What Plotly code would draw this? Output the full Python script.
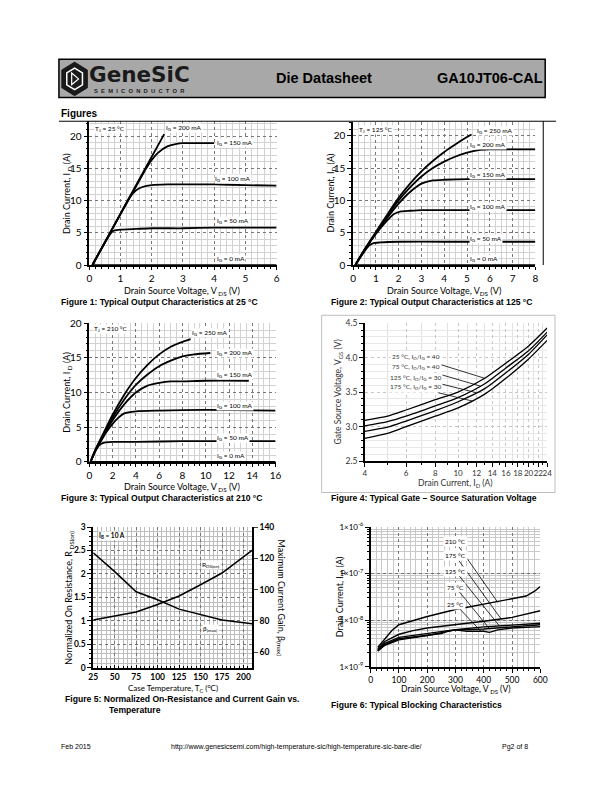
import math
import plotly.graph_objects as go

W, H = 612, 792
def px(x): return x / W
def py(y): return 1 - y / H

# ---------------- data ----------------
# Figure 1 : Tj = 25 C
f1_ig0_v = [0.1, 6.0]
f1_ig0_i = [0.0, 0.0]
f1_ig50_v = [0.1, 0.3, 0.5, 0.7, 0.8, 1.0, 1.5, 2.0, 3.0, 4.0, 5.0, 6.0]
f1_ig50_i = [0.0, 1.8, 3.5, 5.0, 5.35, 5.5, 5.6, 5.7, 5.7, 5.8, 5.8, 5.8]
f1_ig100_v = [0.1, 0.5, 1.0, 1.3, 1.5, 1.7, 2.0, 2.5, 3.0, 4.0, 5.0, 6.0]
f1_ig100_i = [0.0, 3.5, 7.9, 10.5, 11.6, 12.1, 12.4, 12.5, 12.5, 12.5, 12.4, 12.3]
f1_ig150_v = [0.1, 0.5, 1.0, 1.5, 1.8, 2.0, 2.2, 2.5, 2.8, 3.0, 3.5, 4.0]
f1_ig150_i = [0.0, 3.5, 7.9, 12.2, 14.8, 16.3, 17.4, 18.4, 18.8, 18.9, 18.9, 18.9]
f1_ig200_v = [0.1, 1.0, 2.0, 2.4]
f1_ig200_i = [0.0, 8.0, 16.8, 20.3]

# Figure 2 : Tj = 125 C
f2_ig0_v = [0.1, 8.0]
f2_ig0_i = [0.0, 0.0]
f2_ig50_v = [0.1, 0.4, 0.7, 0.9, 1.2, 2.0, 4.0, 6.0, 8.0]
f2_ig50_i = [0.0, 1.6, 3.0, 3.4, 3.5, 3.6, 3.6, 3.6, 3.6]
f2_ig100_v = [0.1, 0.5, 1.0, 1.5, 1.8, 2.1, 2.5, 3.0, 4.0, 6.0, 8.0]
f2_ig100_i = [0.0, 2.3, 4.8, 6.9, 7.9, 8.3, 8.4, 8.5, 8.5, 8.5, 8.5]
f2_ig150_v = [0.1, 0.5, 1.0, 1.5, 2.0, 2.5, 3.0, 3.5, 4.0, 5.0, 6.0, 8.0]
f2_ig150_i = [0.0, 2.3, 4.9, 7.3, 9.5, 11.3, 12.6, 13.1, 13.2, 13.3, 13.3, 13.3]
f2_ig200_v = [0.1, 0.5, 1.0, 1.5, 2.0, 2.5, 3.0, 3.5, 4.0, 4.5, 5.0, 5.5, 6.0, 7.0, 8.0]
f2_ig200_i = [0.0, 2.3, 5.0, 7.6, 10.0, 12.0, 13.7, 15.0, 16.0, 16.8, 17.4, 17.8, 17.9, 17.9, 17.9]
f2_ig250_v = [0.1, 0.5, 1.0, 1.5, 2.0, 2.5, 3.0, 3.5, 4.0, 4.5, 5.0, 5.2]
f2_ig250_i = [0.0, 2.4, 5.1, 7.8, 10.4, 12.6, 14.5, 16.1, 17.5, 18.7, 19.8, 20.2]

# Figure 3 : Tj = 210 C
f3_ig0_v = [0.1, 16.0]
f3_ig0_i = [0.0, 0.0]
f3_ig50_v = [0.1, 0.5, 0.8, 1.0, 1.3, 2.0, 4.0, 8.0, 16.0]
f3_ig50_i = [0.0, 1.5, 2.3, 2.6, 2.8, 2.9, 2.9, 3.0, 3.0]
f3_ig100_v = [0.1, 0.5, 1.0, 1.5, 2.0, 2.5, 3.0, 4.0, 6.0, 10.0, 16.0]
f3_ig100_i = [0.0, 1.5, 3.0, 4.4, 5.5, 6.4, 7.0, 7.3, 7.4, 7.5, 7.4]
f3_ig150_v = [0.1, 0.5, 1.0, 2.0, 3.0, 4.0, 5.0, 6.0, 7.0, 8.0, 10.0, 13.7]
f3_ig150_i = [0.0, 1.6, 3.2, 6.0, 8.3, 10.0, 11.0, 11.4, 11.6, 11.6, 11.7, 11.7]
f3_ig200_v = [0.1, 0.5, 1.0, 2.0, 3.0, 4.0, 5.0, 6.0, 7.0, 8.0, 9.0, 10.4]
f3_ig200_i = [0.0, 1.6, 3.3, 6.4, 9.0, 11.1, 12.6, 13.8, 14.6, 15.2, 15.5, 15.7]
f3_ig250_v = [0.1, 0.5, 1.0, 2.0, 3.0, 4.0, 5.0, 6.0, 7.0, 8.0, 8.7]
f3_ig250_i = [0.0, 1.7, 3.4, 6.8, 9.7, 12.1, 14.0, 15.5, 16.6, 17.3, 17.7]

# Figure 4 : gate-source saturation voltage
f4_id = [4, 5, 6, 8, 10, 13, 16, 20, 24]
f4_vgs_25 = [3.09, 3.15, 3.24, 3.39, 3.50, 3.70, 3.92, 4.17, 4.43]
f4_vgs_75 = [3.01, 3.07, 3.15, 3.30, 3.42, 3.62, 3.85, 4.10, 4.37]
f4_vgs_125 = [2.93, 2.99, 3.08, 3.23, 3.36, 3.55, 3.78, 4.05, 4.33]
f4_vgs_175 = [2.83, 2.90, 3.00, 3.15, 3.27, 3.47, 3.70, 3.98, 4.25]
f4_xticks = [4, 6, 8, 10, 12, 14, 16, 18, 20, 22, 24]

# Figure 5 : normalized Rds(on) and current gain vs temperature
f5_tc = [25, 50, 75, 100, 125, 150, 175, 210]
f5_rdson = [1.02, 1.10, 1.19, 1.35, 1.53, 1.77, 2.02, 2.50]
f5_beta = [123.5, 111.5, 98.6, 93.5, 87.5, 84.0, 80.6, 78.2]

# Figure 6 : blocking characteristics
f6_210_v = [25, 50, 75, 100, 130, 200, 300, 400, 500, 550, 580, 600]
f6_210_i = [2.6e-9, 4.0e-9, 6.0e-9, 8.0e-9, 9.0e-9, 1.2e-8, 1.7e-8, 2.2e-8, 2.8e-8, 3.3e-8, 4.2e-8, 5.3e-8]
f6_175_v = [25, 50, 100, 150, 200, 300, 400, 500, 600]
f6_175_i = [2.4e-9, 3.5e-9, 5.0e-9, 6.0e-9, 6.8e-9, 8.0e-9, 9.5e-9, 1.15e-8, 1.6e-8]
f6_125_v = [25, 50, 100, 200, 300, 400, 500, 600]
f6_125_i = [2.3e-9, 3.2e-9, 4.3e-9, 5.3e-9, 6.3e-9, 7.2e-9, 7.9e-9, 8.6e-9]
f6_75_v = [25, 50, 100, 200, 250, 270, 300, 400, 500, 600]
f6_75_i = [2.2e-9, 3.0e-9, 4.0e-9, 4.8e-9, 5.2e-9, 5.8e-9, 6.2e-9, 6.5e-9, 7.3e-9, 8.0e-9]
f6_25_v = [25, 50, 100, 200, 300, 340, 400, 420, 450, 500, 600]
f6_25_i = [2.2e-9, 2.9e-9, 3.8e-9, 4.7e-9, 6.2e-9, 5.8e-9, 5.8e-9, 5.5e-9, 6.2e-9, 6.8e-9, 7.3e-9]
f6_yticks = [1e-9, 1e-8, 1e-7, 1e-6]
f6_yticktext = ["1×10<sup>-9</sup>", "1×10<sup>-8</sup>", "1×10<sup>-7</sup>", "1×10<sup>-6</sup>"]

# ---------------- figure ----------------
fig = go.Figure()
LBL = "Lato"
CAP = "Liberation Sans"

def line(x, y, xa, ya, w=1.8, shape="spline"):
    fig.add_trace(go.Scatter(x=x, y=y, mode="lines", xaxis=xa, yaxis=ya,
                             line=dict(color="black", width=w, shape=shape, smoothing=0.6),
                             showlegend=False, hoverinfo="skip"))

for v, i in [(f1_ig0_v, f1_ig0_i), (f1_ig50_v, f1_ig50_i), (f1_ig100_v, f1_ig100_i),
             (f1_ig150_v, f1_ig150_i), (f1_ig200_v, f1_ig200_i)]:
    line(v, i, "x", "y")
for v, i in [(f2_ig0_v, f2_ig0_i), (f2_ig50_v, f2_ig50_i), (f2_ig100_v, f2_ig100_i),
             (f2_ig150_v, f2_ig150_i), (f2_ig200_v, f2_ig200_i), (f2_ig250_v, f2_ig250_i)]:
    line(v, i, "x2", "y2")
for v, i in [(f3_ig0_v, f3_ig0_i), (f3_ig50_v, f3_ig50_i), (f3_ig100_v, f3_ig100_i),
             (f3_ig150_v, f3_ig150_i), (f3_ig200_v, f3_ig200_i), (f3_ig250_v, f3_ig250_i)]:
    line(v, i, "x3", "y3")
for s in [f4_vgs_25, f4_vgs_75, f4_vgs_125, f4_vgs_175]:
    line(f4_id, s, "x4", "y4", w=1.3)
line(f5_tc, f5_rdson, "x5", "y5", w=1.5, shape="linear")
line(f5_tc, f5_beta, "x5", "y7", w=1.5, shape="linear")
for v, i in [(f6_210_v, f6_210_i), (f6_175_v, f6_175_i), (f6_125_v, f6_125_i),
             (f6_75_v, f6_75_i), (f6_25_v, f6_25_i)]:
    line(v, i, "x6", "y6", w=1.4, shape="linear")

TICKF = dict(family=LBL, size=10, color="black")

def ax(domain, rng, anchor, dtick=None, minor=None, mgrid="#777", ngrid="#d2d2d2",
       tickfont=TICKF, mticks="outside", **kw):
    d = dict(domain=domain, range=rng, anchor=anchor, showline=True, linecolor="black",
             linewidth=1.5, ticks="outside", ticklen=4, tickcolor="black",
             showgrid=True, gridcolor=mgrid, griddash="dot", gridwidth=1,
             zeroline=False, tickfont=tickfont, mirror=False, tickangle=0)
    if dtick is not None:
        d["dtick"] = dtick
    if minor is not None:
        d["minor"] = dict(ticks=mticks, ticklen=2, tickcolor="black", showgrid=True,
                          gridcolor=ngrid, griddash="solid", gridwidth=1, **minor)
    d.update(kw)
    return d

layout = dict(
    width=W, height=H, margin=dict(l=0, r=0, t=0, b=0),
    paper_bgcolor="white", plot_bgcolor="white", showlegend=False,
    xaxis=ax([px(86), px(277)], [0, 6], "y", dtick=1, minor=dict(dtick=0.2), ticklen=3),
    yaxis=ax([py(262), py(116)], [0, 22.3], "x", dtick=5, minor=dict(dtick=1)),
    xaxis2=ax([px(355), px(541)], [0, 8], "y2", dtick=1, minor=dict(dtick=0.25), ticklen=3),
    yaxis2=ax([py(262), py(117)], [0, 22.1], "x2", dtick=5, minor=dict(dtick=1)),
    xaxis3=ax([px(86), px(276)], [0, 16], "y3", dtick=2, minor=dict(dtick=0.5), ticklen=3),
    yaxis3=ax([py(462), py(321)], [0, 20], "x3", dtick=5, minor=dict(dtick=1)),
    xaxis4=ax([px(367), px(553)], [0.60206, 1.380211], "y4", type="log",
              tickmode="array", tickvals=f4_xticks, mgrid="#c8c8c8",
              tickfont=dict(family=LBL, size=8, color="#333"),
              minor=dict(tickmode="array", tickvals=[5, 7, 9, 11, 13, 15, 17, 19, 21, 23]),
              ngrid="#e2e2e2"),
    yaxis4=ax([py(461), py(321)], [2.5, 4.5], "x4", dtick=0.5, mgrid="#c8c8c8",
              tickformat=".1f", tickfont=dict(family=LBL, size=8.5, color="#333"),
              minor=dict(dtick=0.1), ngrid="#e8e8e8"),
    xaxis5=ax([px(90), px(252)], [25, 210], "y5", tickmode="array",
              tickvals=[25, 50, 75, 100, 125, 150, 175, 200], minor=dict(dtick=5),
              ngrid="#bdbdbd", ticks="inside", ticklen=3, mticks="inside",
              tickfont=dict(family=LBL, size=8.5, color="black", weight="bold")),
    yaxis5=ax([py(671), py(528)], [0, 3], "x5", dtick=0.5, minor=dict(dtick=0.1),
              ngrid="#bdbdbd", tickfont=dict(family=LBL, size=8.5, color="black", weight="bold")),
    yaxis7=dict(overlaying="y5", anchor="x5", side="right", range=[50, 140],
                tickvals=[60, 80, 100, 120, 140], showline=True, linecolor="black",
                linewidth=1.5, ticks="outside", ticklen=4, showgrid=False, zeroline=False,
                tickfont=dict(family=LBL, size=8.5, color="black", weight="bold")),
    xaxis6=ax([px(373), px(546)], [0, 600], "y6", dtick=100, minor=dict(dtick=20),
              ngrid="#c8c8c8", tickfont=dict(family=LBL, size=8.5, color="black")),
    yaxis6=ax([py(670), py(528)], [-9, -6], "x6", type="log", tickmode="array",
              tickvals=f6_yticks, ticktext=f6_yticktext, ngrid="#c8c8c8",
              minor=dict(dtick="D1"), tickfont=dict(family=LBL, size=8, color="black")),
)
fig.update_layout(**layout)

ann = []
def A(text, x, y, size=7, xanchor="left", yanchor="middle", family=LBL, color="black",
      bold=False, angle=0, xref="paper", yref="paper", bg=None, **kw):
    if xref == "paper":
        x = px(x)
    if yref == "paper":
        y = py(y)
    d = dict(text=("<b>%s</b>" % text) if bold else text, x=x, y=y, xref=xref, yref=yref,
             xanchor=xanchor, yanchor=yanchor, showarrow=False, textangle=angle,
             font=dict(family=family, size=size, color=color))
    if bg:
        d["bgcolor"] = bg
        d["borderpad"] = 0
    d.update(kw)
    ann.append(d)

NB = "\u00a0\u00a0"
# header
A("Die Datasheet", 325, 72, size=14.5, xanchor="center", family=CAP, bold=True)
A("GA10JT06-CAL", 551, 72, size=14.5, xanchor="right", family=CAP, bold=True)
A("GeneSiC", 84, 69, size=21.5, family="DejaVu Sans", bold=True, color="#1a1a1a")
A(NB.join("SEMICONDUCTOR"), 89, 85, size=5.8, family=CAP, bold=True, color="#222")
A("Figures", 55, 108, size=10, family=CAP, bold=True)

# captions
CS = 8.6
A("Figure 1: Typical Output Characteristics at 25 °C", 55, 299.5, size=CS, family=CAP, bold=True)
A("Figure 2: Typical Output Characteristics at 125 °C", 330, 299.5, size=CS, family=CAP, bold=True)
A("Figure 3: Typical Output Characteristics at 210 °C", 55, 499, size=CS, family=CAP, bold=True)
A("Figure 4: Typical Gate – Source Saturation Voltage", 330, 499, size=CS, family=CAP, bold=True)
A("Figure 5: Normalized On-Resistance and Current Gain vs.", 59, 703, size=CS, family=CAP, bold=True)
A("Temperature", 104, 714, size=CS, family=CAP, bold=True)
A("Figure 6: Typical Blocking Characteristics", 330, 709, size=CS, family=CAP, bold=True)

# footer
A("Feb 2015", 55, 751, size=7, family=CAP)
A("http://www.genesicsemi.com/high-temperature-sic/high-temperature-sic-bare-die/", 297, 751,
  size=7, family=CAP, xanchor="center")
A("Pg2 of 8", 505, 751, size=7, family=CAP)

# axis titles
XT = "Drain Source Voltage, V<sub> DS</sub> (V)"
YT = "Drain Current, I<sub> D</sub> (A)"
A(XT, 181, 288, size=9, xanchor="center")
A(YT, 63, 189, size=9, xanchor="center", angle=-90)
A("Drain Source Voltage, V<sub>DS</sub> (V)", 448, 288, size=9, xanchor="center")
A("Drain Current, I<sub>D</sub> (A)", 333, 189, size=9, xanchor="center", angle=-90)
A(XT, 181, 487, size=9, xanchor="center")
A(YT, 63, 391, size=9, xanchor="center", angle=-90)
A("Drain Current, I<sub>D</sub> (A)", 460, 484, size=8.5, xanchor="center", color="#333")
A("Gate Source Voltage, V<sub>GS</sub> (V)", 340, 391, size=8.5, xanchor="center",
  angle=-90, color="#333")
A("Case Temperature, T<sub>C</sub> (<sup>o</sup>C)", 171, 691, size=8, xanchor="center")
A("Normalized On Resistance, R<sub> DS(on)</sub>", 65, 600, size=9, xanchor="center", angle=-90)
A("Maximum Current Gain, β<sub>(max)</sub>", 282, 600, size=9, xanchor="center", angle=90)
A("Drain Source Voltage, V<sub> DS</sub> (V)", 460, 693, size=8.5, xanchor="center")
A("Drain Current, I<sub> D</sub> (A)", 342, 599, size=9, xanchor="center", angle=-90)

# in-plot labels, fig 1
IG = "I<sub>G</sub> = %s mA"
A("T<sub>J</sub> = 25 °C", 0.15, 21.1, size=6.5, xref="x", yref="y", bg="white")
A(IG % 200, 2.42, 21.2, size=6.5, xref="x", yref="y", bg="white")
A(IG % 150, 4.05, 18.9, size=6.5, xref="x", yref="y", bg="white")
A(IG % 100, 4.0, 13.4, size=6.5, xref="x", yref="y", bg="white")
A(IG % 50, 4.05, 6.9, size=6.5, xref="x", yref="y", bg="white")
A(IG % 0, 4.05, 0.9, size=6.5, xref="x", yref="y", bg="white")
# fig 2
A("T<sub>J</sub> = 125 °C", 0.2, 20.9, size=6.5, xref="x2", yref="y2", bg="white")
A(IG % 250, 5.4, 20.8, size=6.5, xref="x2", yref="y2", bg="white")
A(IG % 200, 5.1, 18.5, size=6.5, xref="x2", yref="y2", bg="white")
A(IG % 150, 5.1, 13.9, size=6.5, xref="x2", yref="y2", bg="white")
A(IG % 100, 5.1, 9.0, size=6.5, xref="x2", yref="y2", bg="white")
A(IG % 50, 5.1, 4.1, size=6.5, xref="x2", yref="y2", bg="white")
A(IG % 0, 5.1, 0.9, size=6.5, xref="x2", yref="y2", bg="white")
# fig 3
A("T<sub>J</sub> = 210 °C", 0.35, 19.1, size=6.5, xref="x3", yref="y3", bg="white")
A(IG % 250, 8.75, 18.6, size=6.5, xref="x3", yref="y3", bg="white")
A(IG % 200, 10.9, 15.7, size=6.5, xref="x3", yref="y3", bg="white")
A(IG % 150, 10.9, 12.6, size=6.5, xref="x3", yref="y3", bg="white")
A(IG % 100, 10.9, 8.1, size=6.5, xref="x3", yref="y3", bg="white")
A(IG % 50, 10.9, 3.5, size=6.5, xref="x3", yref="y3", bg="white")
A(IG % 0, 10.9, 0.85, size=6.5, xref="x3", yref="y3", bg="white")
# fig 5
A("I<sub>B</sub> = 10 A", 31, 2.81, size=6.5, xref="x5", yref="y5", bg="white", bold=True)
A("R<sub>DS(on)</sub>", 150, 2.18, size=6.5, xref="x5", yref="y5", bg="white")
A("β<sub>(max)</sub>", 152, 0.82, size=6.5, xref="x5", yref="y5", bg="white")

# leader labels fig 4
f4_lab = [("25 °C, I<sub>D</sub>/I<sub>G</sub> = 40", 4.01, 13.0, 3.70),
          ("75 °C, I<sub>D</sub>/I<sub>G</sub> = 40", 3.86, 12.5, 3.585),
          ("125 °C, I<sub>D</sub>/I<sub>G</sub> = 30", 3.71, 12.0, 3.49),
          ("175 °C, I<sub>D</sub>/I<sub>G</sub> = 30", 3.57, 11.5, 3.37)]
for t, ty, tx_, tyv in f4_lab:
    ann.append(dict(text=t, x=math.log10(tx_), y=tyv, xref="x4", yref="y4",
                    ax=math.log10(6.6), ay=ty, axref="x4", ayref="y4", showarrow=True,
                    arrowhead=0, arrowwidth=0.8, arrowcolor="black",
                    font=dict(family=LBL, size=6.5, color="#333"), bgcolor="white"))
# leader labels fig 6
f6_lab = [("210 °C", -6.32, 450, 2.4e-8), ("175 °C", -6.62, 462, 1.05e-8),
          ("125 °C", -6.95, 455, 7.6e-9), ("75 °C", -7.29, 420, 6.6e-9),
          ("25 °C", -7.66, 390, 5.8e-9)]
for t, ty, tx_, tyv in f6_lab:
    ann.append(dict(text=t, x=tx_, y=math.log10(tyv), xref="x6", yref="y6",
                    ax=300, ay=ty, axref="x6", ayref="y6", showarrow=True,
                    arrowhead=0, arrowwidth=0.8, arrowcolor="black",
                    font=dict(family=LBL, size=6.5, color="black"), bgcolor="white"))

fig.update_layout(annotations=ann)

shapes = [
    dict(type="rect", xref="paper", yref="paper", x0=px(55), x1=px(551), y0=py(92), y1=py(53),
         fillcolor="#a8a8a8", line=dict(color="black", width=1.5), layer="below"),
    dict(type="line", xref="paper", yref="paper", x0=px(55), x1=px(562), y0=py(116), y1=py(116),
         line=dict(color="black", width=1)),
    dict(type="line", xref="paper", yref="paper", x0=px(549), x1=px(549), y0=py(262), y1=py(116),
         line=dict(color="black", width=1)),
    dict(type="rect", xref="paper", yref="paper", x0=px(323), x1=px(561), y0=py(493), y1=py(313),
         line=dict(color="#bdbdbd", width=1)),
    dict(type="path", xref="paper", yref="paper",
         path="M %f,%f L %f,%f L %f,%f L %f,%f L %f,%f L %f,%f Z" % (
             px(71), py(56), px(84), py(64), px(84), py(82), px(71), py(90), px(58), py(82),
             px(58), py(64)),
         fillcolor="#1a1a1a", line=dict(color="#1a1a1a", width=1)),
    dict(type="path", xref="paper", yref="paper",
         path="M %f,%f L %f,%f L %f,%f L %f,%f L %f,%f L %f,%f Z" % (
             px(71), py(62), px(79), py(67), px(79), py(79), px(71), py(84), px(63), py(79),
             px(63), py(67)),
         fillcolor="rgba(0,0,0,0)", line=dict(color="white", width=1.5)),
    dict(type="path", xref="paper", yref="paper",
         path="M %f,%f L %f,%f L %f,%f Z" % (px(68), py(67), px(75), py(73), px(68), py(79)),
         fillcolor="#1a1a1a", line=dict(color="white", width=1.2)),
]
fig.update_layout(shapes=shapes)

fig.write_html("out.html", config={"displayModeBar": False},
               post_script="document.body.style.margin='0';document.body.style.padding='0';"
                           "document.documentElement.style.overflow='hidden';")
